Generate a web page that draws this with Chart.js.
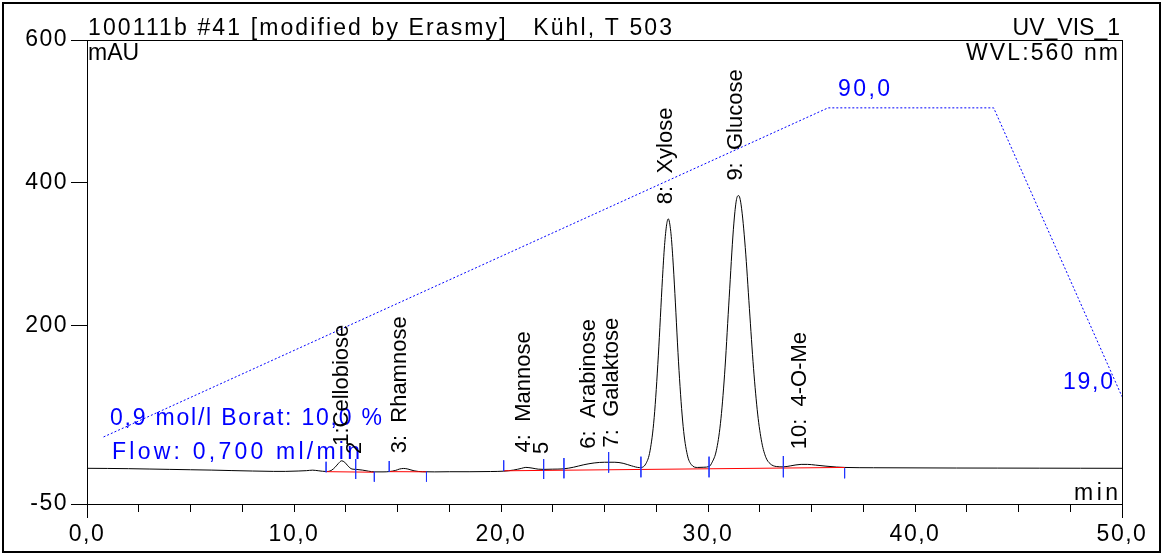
<!DOCTYPE html>
<html>
<head>
<meta charset="utf-8">
<script src="https://cdn.jsdelivr.net/npm/chart.js@4.4.1/dist/chart.umd.min.js"></script>
<style>
  html, body { margin: 0; padding: 0; background: #fff; }
  #wrap { width: 1169px; height: 555px; }
</style>
</head>
<body>
<div id="wrap"><canvas id="chrom" width="1169" height="555"></canvas></div>
<script>
// retention time (min) and detector signal (mAU)
const times = [
  0, 1, 2, 3, 4, 5, 6, 7, 8, 9, 9.6, 10.2, 10.6, 10.9, 11.2, 11.55, 11.8, 12.0, 12.15, 12.3,
  12.45, 12.6, 12.8, 13.0, 13.3, 13.6, 13.9, 14.3, 14.6, 14.9, 15.1, 15.3, 15.5, 15.8, 16.2, 16.8,
  17.5, 18.5, 19.5, 20.13, 20.6, 21.0, 21.2, 21.5, 21.8, 22.06, 22.5, 23.0, 23.5, 24.0, 24.5, 25.0,
  25.5, 25.9, 26.3, 26.7, 27.0, 27.2, 27.4, 27.6, 27.8, 27.9, 28.0, 28.08, 28.2, 28.3, 28.4, 28.6,
  28.8, 29.0, 29.2, 29.5, 29.8, 30.05, 30.2, 30.4, 30.6, 30.8, 31.0, 31.2, 31.3, 31.4, 31.48, 31.6,
  31.8, 32.0, 32.2, 32.4, 32.6, 32.8, 33.0, 33.3, 33.64, 34.0, 34.5, 34.8, 35.2, 35.7, 36.2, 36.6,
  38, 40, 42, 44, 46, 48, 50
];
const signal = [
  0, -0.2, -0.5, -1, -1.5, -2, -2.5, -3.2, -3.8, -4.3, -4.3, -3.8, -3.3, -2.6, -3.5, -4.5, -3, 2, 7, 10.5,
  8.5, 3.5, -1, -1.5, -2.5, -4, -5, -5, -4.6, -3, -1, -0.2, -1, -3.5, -4.8, -5,
  -4.8, -4.8, -4.5, -4, -2.5, 0, 1.3, 0.3, -1.2, -1.5, -1.2, -0.8, 1.5, 5, 7.5, 8.5,
  8.5, 7, 3.5, 1, 6.5, 24.5, 71, 157.5, 266, 312, 341, 349.5, 332, 295, 245, 137,
  58.5, 19, 5, 1.2, 1.5, 2.5, 8.5, 24.5, 62.5, 131, 227.5, 324, 359.5, 379.5, 382, 369,
  309.5, 224, 140, 76, 36, 15, 6.5, 2.5, 2, 3.5, 5.5, 5.5, 4.5, 3, 1.8, 1.2,
  0.8, 0.6, 0.4, 0.3, 0.2, 0.1, 0
];

// eluent program (% borate)
const gradientTimes = [0.8, 35.8, 43.8, 50];
const gradientPercent = [10, 90, 90, 19.8];

// named peaks
const peakNames = ['1:Cellobiose', '2', '3:  Rhamnose', '4:  Mannose', '5', '6:  Arabinose',
  '7:  Galaktose', '8:  Xylose', '9:  Glucose', '10:  4-O-Me'];
const peakTimes = [12.3, 12.95, 15.1, 21.1, 22.0, 24.25, 25.35, 27.95, 31.35, 34.45];
const peakHeights = [10.6, -1, 0, 1.3, -1, 6.5, 8.3, 349, 382, 5.6];

// peak delimiters (min, top mAU, bottom mAU)
const delimTimes = [11.55, 12.98, 13.88, 14.6, 16.4, 20.13, 22.06, 23.04, 25.2, 26.76, 30.05, 33.64, 36.6];
const delimTop = [9.2, 13, -4.8, 10.2, -4.8, 11.2, 13, 14.4, 22.8, 16.3, 16.3, 17.2, 0];
const delimBottom = [-5.6, -15, -18.8, -5.2, -18.8, -3.8, -15, -14, -6.2, -12.6, -12.6, -12.6, -14];

// integration baselines
const baseFromT = [11.55, 14.6, 20.13];
const baseFromV = [-4.7, -4.7, -3.5];
const baseToT = [13.88, 16.4, 36.6];
const baseToV = [-5.5, -4.9, 1.2];

const yTicks = [-50, 200, 400, 600];

const FONT = '"Liberation Sans", Arial, sans-serif';
const BLUE = '#0000ff';

const trace = times.map((t, i) => ({ x: t, y: signal[i] }));
const grad = gradientTimes.map((t, i) => ({ x: t, y: gradientPercent[i] }));
const baseSegs = [];
baseFromT.forEach((t, i) => {
  baseSegs.push({ x: t, y: baseFromV[i] }, { x: baseToT[i], y: baseToV[i] }, { x: baseToT[i], y: null });
});
const delims = [];
delimTimes.forEach((t, i) => {
  delims.push({ x: t, y: delimTop[i] }, { x: t, y: delimBottom[i] }, { x: t, y: null });
});

// draws text stretched (by letter spacing) to a given width
function fitText(ctx, text, x, y, width, align) {
  ctx.letterSpacing = '0px';
  ctx.textAlign = 'left';
  const w = ctx.measureText(text).width;
  const ls = text.length > 1 ? Math.max(0, (width - w) / (text.length - 1)) : 0;
  ctx.letterSpacing = ls + 'px';
  const x0 = align === 'right' ? x - Math.max(width, w) : x;
  ctx.fillText(text, x0, y);
  ctx.letterSpacing = '0px';
}

const decor = {
  id: 'decor',
  beforeDraw(chart) {
    chart.ctx.letterSpacing = '1.5px';
  },
  afterDraw(chart) {
    const { ctx, chartArea: a, scales } = chart;
    const xs = scales.x, ys = scales.y, y2 = scales.y2;
    ctx.save();
    ctx.letterSpacing = '0px';
    ctx.strokeStyle = '#000';
    ctx.lineWidth = 1;
    ctx.beginPath();
    ctx.moveTo(a.left, a.top + 0.5); ctx.lineTo(a.right + 1, a.top + 0.5);
    ctx.moveTo(a.right + 0.5, a.top); ctx.lineTo(a.right + 0.5, a.bottom + 14);
    ctx.moveTo(a.left + 0.5, a.bottom); ctx.lineTo(a.left + 0.5, a.bottom + 14);
    ctx.stroke();
    ctx.lineWidth = 2;
    ctx.strokeRect(3, 3, 1157, 549);

    ctx.fillStyle = '#000';
    ctx.textBaseline = 'alphabetic';
    ctx.font = '23px ' + FONT;
    fitText(ctx, '100111b #41 [modified by Erasmy]   Kühl, T 503', 88, 35, 584);
    fitText(ctx, 'UV_VIS_1', 1120, 35, 96, 'right');
    fitText(ctx, 'mAU', 88, 60, 42);
    fitText(ctx, 'WVL:560 nm', 1118, 60, 152, 'right');
    fitText(ctx, 'min', 1118, 500, 44, 'right');

    ctx.fillStyle = BLUE;
    fitText(ctx, '0,9 mol/l Borat: 10,0 %', a.left + 23, 425, 272);
    fitText(ctx, 'Flow: 0,700 ml/min', a.left + 25, 459, 248);
    fitText(ctx, '90,0', xs.getPixelForValue(gradientTimes[1]) + 10, y2.getPixelForValue(gradientPercent[1]) - 12, 52);
    fitText(ctx, '19,0', xs.getPixelForValue(gradientTimes[3]) - 59, y2.getPixelForValue(gradientPercent[3]) - 8, 50);

    ctx.fillStyle = '#000';
    ctx.font = '22px ' + FONT;
    ctx.letterSpacing = '0px';
    peakNames.forEach((name, i) => {
      const px = xs.getPixelForValue(peakTimes[i]);
      const py = ys.getPixelForValue(peakHeights[i]) - 15;
      ctx.save();
      ctx.translate(px, py);
      ctx.rotate(-Math.PI / 2);
      ctx.textAlign = 'left';
      ctx.textBaseline = 'middle';
      ctx.fillText(name, 0, 0);
      ctx.restore();
    });
    ctx.restore();
  }
};

new Chart(document.getElementById('chrom'), {
  type: 'line',
  data: {
    datasets: [
      { data: delims, borderColor: 'rgba(30,50,255,0.85)', borderWidth: 1, pointRadius: 0, spanGaps: false, yAxisID: 'y' },
      { data: baseSegs, borderColor: 'rgb(255,0,0)', borderWidth: 1, pointRadius: 0, spanGaps: false, yAxisID: 'y' },
      { data: trace, borderColor: '#000', borderWidth: 1, pointRadius: 0, cubicInterpolationMode: 'monotone', yAxisID: 'y' },
      { data: grad, borderColor: BLUE, borderWidth: 1, borderDash: [2, 2], pointRadius: 0, tension: 0, yAxisID: 'y2' }
    ]
  },
  options: {
    responsive: false,
    animation: false,
    devicePixelRatio: 1,
    layout: { padding: { top: 40, right: 47, bottom: 0, left: 0 } },
    plugins: { legend: { display: false }, tooltip: { enabled: false } },
    scales: {
      x: {
        type: 'linear', min: 0, max: 50,
        afterFit: s => { s.height = 51; },
        ticks: {
          stepSize: 2.5, autoSkip: false, maxRotation: 0, padding: 9,
          color: '#000', font: { size: 23, family: FONT },
          callback: v => (v % 10 === 0 ? v.toFixed(1).replace('.', ',') : '')
        },
        grid: { drawOnChartArea: false, tickLength: 8, color: '#000' },
        border: { display: true, color: '#000' }
      },
      y: {
        type: 'linear', min: -50, max: 600,
        afterFit: s => { s.width = 87; },
        afterBuildTicks: s => { s.ticks = yTicks.map(v => ({ value: v })); },
        ticks: { padding: 3, color: '#000', font: { size: 23, family: FONT } },
        grid: { drawOnChartArea: false, tickLength: 16, color: '#000' },
        border: { display: true, color: '#000' }
      },
      y2: { type: 'linear', display: false, min: -6.3, max: 106.5 }
    }
  },
  plugins: [decor]
});
</script>
</body>
</html>
